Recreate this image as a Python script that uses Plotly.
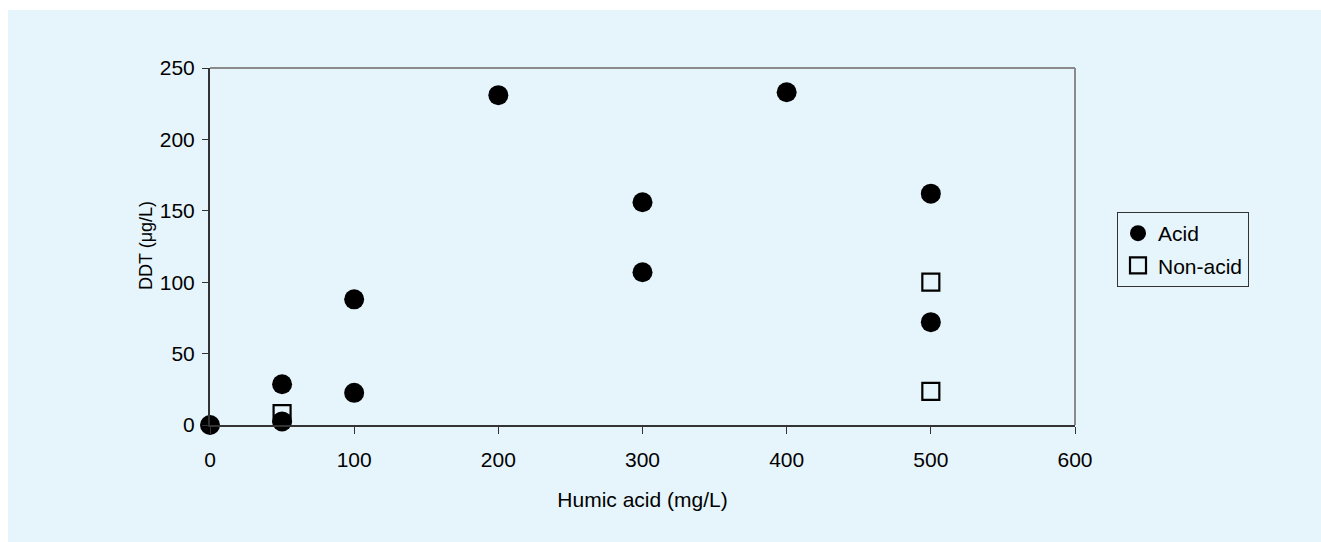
import plotly.graph_objects as go

# Data
acid_x = [0, 50, 50, 100, 100, 200, 300, 300, 400, 500, 500]
acid_y = [0, 28.5, 2.5, 88, 22.5, 231, 156, 107, 233, 162, 72]
nonacid_x = [50, 500, 500]
nonacid_y = [8, 100, 23.5]

x_ticks = [0, 100, 200, 300, 400, 500, 600]
y_ticks = [0, 50, 100, 150, 200, 250]

W, H = 1321, 542
L, R, T, B = 210, 246, 68, 117
pw, ph = W - L - R, H - T - B

BG = "#E6F5FB"
FONT = "Arial, 'Liberation Sans', sans-serif"
FS = 21

fig = go.Figure()
fig.add_trace(go.Scatter(
    x=acid_x, y=acid_y, mode="markers", name="Acid", legendgroup="acid",
    marker=dict(symbol="circle", size=20, color="black", line=dict(width=0)),
    cliponaxis=False,
))
fig.add_trace(go.Scatter(
    x=nonacid_x, y=nonacid_y, mode="markers", name="Non-acid", legendgroup="nonacid",
    marker=dict(symbol="square-open", size=17, color="black", line=dict(width=2.2)),
    cliponaxis=False,
))

def px_x(p):
    return (p - L) / pw

def px_y(p):
    return (H - B - p) / ph

shapes = [
    # blue background panel
    dict(type="rect", xref="paper", yref="paper", layer="below",
         x0=px_x(8), x1=px_x(W + 5), y0=px_y(H + 5), y1=px_y(10),
         fillcolor=BG, line=dict(width=0)),
    # top border (grey)
    dict(type="line", xref="paper", yref="paper", layer="above",
         x0=0, x1=1, y0=1, y1=1, line=dict(color="#8a8a8a", width=2)),
    # right border (grey)
    dict(type="line", xref="paper", yref="paper", layer="above",
         x0=1, x1=1, y0=0, y1=1, line=dict(color="#8a8a8a", width=2)),
]

annotations = [
    dict(text="DDT (μg/L)", xref="paper", yref="paper",
         x=px_x(146), y=px_y(246), xanchor="center", yanchor="middle",
         textangle=-90, showarrow=False,
         font=dict(family=FONT, size=18, color="black")),
]

fig.update_layout(
    width=W, height=H,
    margin=dict(l=L, r=R, t=T, b=B, autoexpand=False),
    paper_bgcolor="white",
    plot_bgcolor="rgba(0,0,0,0)",
    font=dict(family=FONT, size=FS, color="black"),
    shapes=shapes,
    annotations=annotations,
    showlegend=True,
    legend=dict(
        x=px_x(1117), y=px_y(212), xanchor="left", yanchor="top",
        bgcolor="rgba(0,0,0,0)", bordercolor="#333333", borderwidth=1,
        font=dict(family=FONT, size=FS, color="black"),
        itemwidth=30, tracegroupgap=2,
    ),
    xaxis=dict(
        range=[0, 600], tickvals=x_ticks, ticktext=[str(v) for v in x_ticks],
        showgrid=False, zeroline=False,
        showline=True, linecolor="#333333", linewidth=2,
        ticks="outside", ticklen=7, tickwidth=1, tickcolor="#333333",
        ticklabelstandoff=8,
        title=dict(text="Humic acid (mg/L)", standoff=22,
                   font=dict(family=FONT, size=FS)),
        automargin=False,
    ),
    yaxis=dict(
        range=[0, 250], tickvals=y_ticks, ticktext=[str(v) for v in y_ticks],
        showgrid=False, zeroline=False,
        showline=True, linecolor="#333333", linewidth=2,
        ticks="outside", ticklen=6, tickwidth=1, tickcolor="#333333",
        ticklabelstandoff=3,
        automargin=False,
    ),
)

fig.write_html("out.html")
